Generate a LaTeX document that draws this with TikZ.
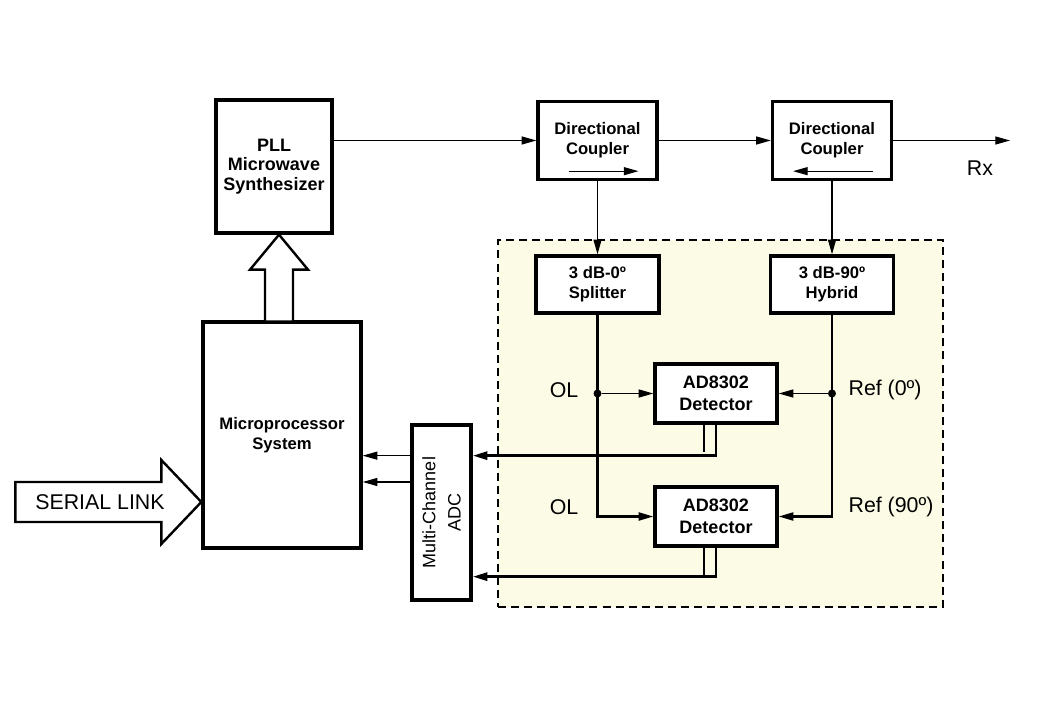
\documentclass[tikz,border=0pt]{standalone}
\usepackage{fontspec}
\setmainfont{Liberation Sans}
\usetikzlibrary{arrows.meta,positioning,calc}
\definecolor{rfPanel}{RGB}{252,252,230}
\definecolor{rfInk}{RGB}{0,0,0}
\tikzset{
    rfBlock/.style={
        rectangle,
        draw=rfInk,
        line width=2.5pt,
        fill=white,
        font=\fontsize{12.5}{15}\selectfont\bfseries,
        align=center,
        inner sep=2pt
    },
    rfDetector/.style={rfBlock, font=\fontsize{13.5}{16.5}\selectfont\bfseries},
    rfArea/.style={
        rectangle,
        draw=rfInk,
        dash pattern=on 6pt off 3.8pt,
        line width=1.5pt,
        fill=rfPanel,
        inner sep=0pt
    },
    % lines
    rfThin/.style={line width=0.9pt, draw=rfInk},
    rfBus/.style={line width=1.6pt, draw=rfInk},
    rfOut/.style={line width=2.1pt, draw=rfInk},
    rfHollow/.style={line width=1.8pt, draw=rfInk, fill=white, line join=miter},
    rfDot/.style={circle, fill=rfInk, inner sep=0pt, minimum size=6pt},
    rfLabel/.style={font=\fontsize{16}{19}\selectfont, inner sep=1pt}
}
\begin{document}
\begin{tikzpicture}[x=0.75pt, y=-0.75pt, >={Triangle[length=11pt,width=6pt]}]
\useasboundingbox (0,0) rectangle (1040,720);

% detector board
\node[rfArea, minimum width=333.75pt, minimum height=275.25pt] (board) at (720.5,423.5) {};

% RF chain
\node[rfBlock, minimum width=87pt, minimum height=99.75pt, font=\fontsize{13.5}{14.5}\selectfont\bfseries] (pll) at (274,166.5) {PLL\\Microwave\\Synthesizer};
\node[rfBlock, minimum width=89.25pt, minimum height=58.5pt] (dcA) at (597.5,140.5) {Directional\\Coupler};
\node[rfBlock, minimum width=89.25pt, minimum height=58.5pt] (dcB) at (832,140.5) {Directional\\Coupler};
\node[rfBlock, minimum width=92.25pt, minimum height=42.75pt] (splitter) at (dcA |- 0,284.5) {3 dB-0º\\Splitter};
\node[rfBlock, minimum width=92.25pt, minimum height=42.75pt] (hybrid) at (dcB |- splitter) {3 dB-90º\\Hybrid};
\node[rfDetector, minimum width=91.5pt, minimum height=44.25pt] (detA) at (716,393.5) {AD8302\\Detector};
\node[rfDetector, minimum width=91.5pt, minimum height=44.25pt] (detB) at (716,516.5) {AD8302\\Detector};

% control side
\node[rfBlock, minimum width=118.5pt, minimum height=169.5pt] (micro) at (282,435) {Microprocessor\\System};
\node[rfBlock, minimum width=44.25pt, minimum height=131.25pt] (adc) at (441.5,512.5) {};
\node[rotate=90, align=center, font=\fontsize{13.5}{19}\selectfont] (adcText) at (adc.center) {Multi-Channel\\ADC};

% coupler direction marks
\draw[rfThin,->] ($(dcA.south)+(-29,-10)$) -- ($(dcA.south)+(41,-10)$);
\draw[rfThin,->] ($(dcB.south)+(41,-10)$) -- ($(dcB.south)+(-39,-10)$);

% RF path
\coordinate (rxEnd) at (1010,140.5);
\draw[rfThin,->] (pll.east |- dcA.west) -- (dcA.west);
\draw[rfThin,->] (dcA) -- (dcB);
\draw[rfThin,->] (dcB) -- (rxEnd);
\node[rfLabel] (rx) at (980,168) {Rx};
\draw[rfThin,->] (dcA) -- (splitter);
\draw[rfThin,->] (dcB) -- (hybrid);

% splitter / hybrid to detectors
\draw[rfBus,->] (splitter.south) |- (detB.west);
\draw[rfBus,->] (hybrid.south) |- (detB.east);
\node[rfDot] (olTap) at (splitter.south |- detA.west) {};
\node[rfDot] (refTap) at (hybrid.south |- detA.east) {};
\draw[rfThin,->] (olTap) -- (detA.west);
\draw[rfThin,->] (refTap) -- (detA.east);
\node[rfLabel] (olA) at (564,390) {OL};
\node[rfLabel] (olB) at (564,507) {OL};
\node[rfLabel, anchor=west] (refA) at (847,390) {Ref (0º)};
\node[rfLabel, anchor=west] (refB) at (847,507) {Ref (90º)};

% detector outputs to ADC
\draw[rfOut,->] (detA.south) -- ++(0,31) coordinate (detAturn) -- (detAturn -| adc.east);
\draw[rfOut] ([xshift=-9pt]detA.south) -- ++(0,27);
\draw[rfOut,->] (detB.south) -- ++(0,29) coordinate (detBturn) -- (detBturn -| adc.east);
\draw[rfOut] ([xshift=-9pt]detB.south) -- ++(0,29);

% ADC to microprocessor
\coordinate (busRow) at (0,482);
\draw[rfThin,->] (adc.west |- detAturn) -- (micro.east |- detAturn);
\draw[rfThin,->] (adc.west |- busRow) -- (micro.east |- busRow);

% control bus to synthesizer
\coordinate (busCol) at (279,0);
\draw[rfHollow] (busCol |- pll.south) -- ++(29,35) -- ++(-15,0) -- ++(0,52)
  -- ++(-28,0) -- ++(0,-52) -- ++(-15,0) -- cycle;

% serial link
\coordinate (serialRow) at (0,502);
\draw[rfHollow] (micro.west |- serialRow) -- ++(-40,-42) -- ++(0,22) -- ++(-146,0)
  -- ++(0,40) -- ++(146,0) -- ++(0,22) -- cycle;
\node[rfLabel] (serial) at (100,502) {SERIAL LINK};
\end{tikzpicture}
\end{document}
